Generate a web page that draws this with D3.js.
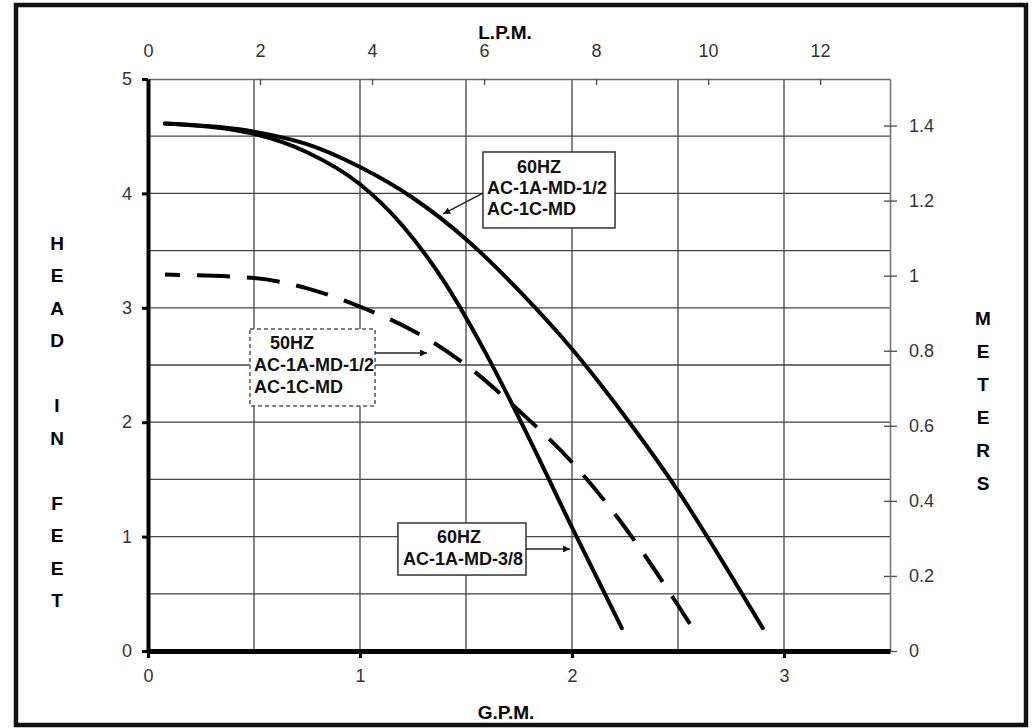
<!DOCTYPE html>
<html>
<head>
    <title>Pump Curve</title>
    <script src="https://d3js.org/d3.v7.min.js"></script>
    <style>
        body { margin: 0; background: #fff; }
        svg { font-family: "Liberation Sans", Arial, sans-serif; }
        .tick text { font-size: 18px; fill: #333; }
        .title { font-size: 19px; font-weight: bold; fill: #000; }
        .note { font-size: 18px; font-weight: bold; fill: #111; }
        .grid { stroke: #444; stroke-width: 1.3; }
        .curve { fill: none; stroke: #000; stroke-width: 4; stroke-linecap: round; }
    </style>
</head>
<body>
<script>
    // GPM / head in feet
    var gpm60Half = [0.08, 0.5, 0.75, 1.0, 1.25, 1.5, 1.75, 2.0, 2.25, 2.5, 2.75, 2.9];
    var head60Half = [4.61, 4.54, 4.43, 4.23, 3.96, 3.60, 3.15, 2.64, 2.05, 1.40, 0.66, 0.2];

    var gpm60Small = [0.08, 0.5, 0.75, 1.0, 1.2, 1.4, 1.6, 1.8, 2.0, 2.235];
    var head60Small = [4.61, 4.52, 4.36, 4.08, 3.72, 3.22, 2.58, 1.85, 1.08, 0.2];

    var gpm50Half = [0.08, 0.5, 0.75, 1.0, 1.25, 1.5, 1.75, 2.0, 2.25, 2.5, 2.566];
    var head50Half = [3.29, 3.26, 3.17, 3.01, 2.80, 2.50, 2.10, 1.65, 1.08, 0.40, 0.21];

    var gpmTicks = [0, 1, 2, 3];
    var feetTicks = [0, 1, 2, 3, 4, 5];
    var lpmTicks = [0, 2, 4, 6, 8, 10, 12];
    var meterTicks = [0, 0.2, 0.4, 0.6, 0.8, 1, 1.2, 1.4];
    var gpmGrid = [0.5, 1, 1.5, 2, 2.5, 3];
    var feetGrid = [0.5, 1, 1.5, 2, 2.5, 3, 3.5, 4, 4.5];

    var w = 1036;
    var h = 728;
    var padLeft = 148, padRight = 890, padTop = 79, padBottom = 651;
    var fmt = d3.format("~g");

    var x = d3.scaleLinear().domain([0, 3.5]).range([padLeft, padRight]);
    var y = d3.scaleLinear().domain([0, 5]).range([padBottom, padTop]);
    var xLpm = d3.scaleLinear().domain([0, 3.5 * 3.785]).range([padLeft, padRight]);
    var yMeter = d3.scaleLinear().domain([0, 5 * 0.3048]).range([padBottom, padTop]);

    var svg = d3.select("body")
        .append("svg")
        .attr("width", w)
        .attr("height", h);

    svg.append("defs").append("marker")
        .attr("id", "arrow")
        .attr("viewBox", "0 0 10 10")
        .attr("refX", 10)
        .attr("refY", 5)
        .attr("markerWidth", 11)
        .attr("markerHeight", 7)
        .attr("markerUnits", "userSpaceOnUse")
        .attr("orient", "auto")
        .append("path")
        .attr("d", "M0,0 L10,5 L0,10 Z")
        .attr("fill", "#111");

    // frame
    svg.append("rect")
        .attr("x", 16).attr("y", 5)
        .attr("width", 1010).attr("height", 720)
        .attr("fill", "none")
        .attr("stroke", "#111")
        .attr("stroke-width", 4.5);

    // grid
    svg.selectAll(".vgrid")
        .data(gpmGrid)
        .enter()
        .append("line")
        .attr("class", "grid")
        .attr("x1", function (d) { return x(d); })
        .attr("x2", function (d) { return x(d); })
        .attr("y1", padTop)
        .attr("y2", padBottom);

    svg.selectAll(".hgrid")
        .data(feetGrid)
        .enter()
        .append("line")
        .attr("class", "grid")
        .attr("x1", padLeft)
        .attr("x2", padRight)
        .attr("y1", function (d) { return y(d); })
        .attr("y2", function (d) { return y(d); });

    // top axis (L.P.M.)
    var topAxis = svg.append("g")
        .attr("transform", "translate(0," + padTop + ")")
        .call(d3.axisTop(xLpm).tickValues(lpmTicks).tickSize(-6).tickSizeOuter(0).tickPadding(22).tickFormat(fmt));
    topAxis.select(".domain").attr("stroke", "#666").attr("stroke-width", 1.6);
    topAxis.selectAll(".tick line").attr("stroke", "#555").attr("stroke-width", 1.4);

    // right axis (meters)
    var rightAxis = svg.append("g")
        .attr("transform", "translate(" + padRight + ",0)")
        .call(d3.axisRight(yMeter).tickValues(meterTicks).tickSize(7).tickSizeOuter(0).tickPadding(12).tickFormat(fmt));
    rightAxis.select(".domain").attr("stroke", "#777").attr("stroke-width", 1.6);
    rightAxis.selectAll(".tick line").attr("x1", -6).attr("stroke", "#555").attr("stroke-width", 1.4);

    // left axis (feet)
    var leftAxis = svg.append("g")
        .attr("transform", "translate(" + padLeft + ",0)")
        .call(d3.axisLeft(y).tickValues(feetTicks).tickSize(6).tickSizeOuter(0).tickPadding(10).tickFormat(fmt));
    leftAxis.select(".domain").attr("stroke", "#000").attr("stroke-width", 4);
    leftAxis.selectAll(".tick line").attr("stroke", "#000").attr("stroke-width", 3);

    // bottom axis (G.P.M.)
    var bottomAxis = svg.append("g")
        .attr("transform", "translate(0," + padBottom + ")")
        .call(d3.axisBottom(x).tickValues(gpmTicks).tickSize(7).tickSizeOuter(0).tickPadding(11).tickFormat(fmt));
    bottomAxis.select(".domain").attr("stroke", "#000").attr("stroke-width", 5);
    bottomAxis.selectAll(".tick line").attr("stroke", "#000").attr("stroke-width", 3);

    // titles
    svg.append("text").attr("class", "title")
        .attr("x", 505).attr("y", 32).attr("dy", "0.35em")
        .attr("text-anchor", "middle").text("L.P.M.");
    svg.append("text").attr("class", "title")
        .attr("x", 506).attr("y", 712).attr("dy", "0.35em")
        .attr("text-anchor", "middle").text("G.P.M.");

    var headLetters = ["H", "E", "A", "D", "", "I", "N", "", "F", "E", "E", "T"];
    svg.append("g").selectAll("text")
        .data(headLetters)
        .enter()
        .append("text")
        .attr("class", "title")
        .attr("x", 57)
        .attr("y", function (d, i) { return 243 + i * 32.5; })
        .attr("dy", "0.35em")
        .attr("text-anchor", "middle")
        .text(function (d) { return d; });

    var meterLetters = ["M", "E", "T", "E", "R", "S"];
    svg.append("g").selectAll("text")
        .data(meterLetters)
        .enter()
        .append("text")
        .attr("class", "title")
        .attr("x", 983)
        .attr("y", function (d, i) { return 318 + i * 33; })
        .attr("dy", "0.35em")
        .attr("text-anchor", "middle")
        .text(function (d) { return d; });

    // curves
    var line = d3.line()
        .x(function (d) { return x(d[0]); })
        .y(function (d) { return y(d[1]); })
        .curve(d3.curveMonotoneX);

    function pairs(xs, ys) {
        return xs.map(function (v, i) { return [v, ys[i]]; });
    }

    svg.append("path")
        .attr("class", "curve")
        .attr("d", line(pairs(gpm60Half, head60Half)));

    svg.append("path")
        .attr("class", "curve")
        .attr("d", line(pairs(gpm60Small, head60Small)));

    svg.append("path")
        .attr("class", "curve")
        .style("stroke-linecap", "butt")
        .attr("stroke-dasharray", "33,17")
        .attr("stroke-dashoffset", 18)
        .attr("d", line(pairs(gpm50Half, head50Half)));

    // label boxes, placed in chart units
    function note(box, lines, arrow, dashed) {
        var g = svg.append("g");
        g.append("rect")
            .attr("x", x(box[0]))
            .attr("y", y(box[2]))
            .attr("width", x(box[1]) - x(box[0]))
            .attr("height", y(box[3]) - y(box[2]))
            .attr("fill", "#fff")
            .attr("stroke", dashed ? "#555" : "#333")
            .attr("stroke-width", 1.5)
            .attr("stroke-dasharray", dashed ? "4,3" : null);
        lines.forEach(function (l) {
            g.append("text")
                .attr("class", "note")
                .attr("x", x(l[1]))
                .attr("y", y(l[2]))
                .attr("dy", "0.35em")
                .attr("text-anchor", l[3])
                .text(l[0]);
        });
        g.append("line")
            .attr("x1", x(arrow[0])).attr("y1", y(arrow[1]))
            .attr("x2", x(arrow[2])).attr("y2", y(arrow[3]))
            .attr("stroke", "#222")
            .attr("stroke-width", 1.4)
            .attr("marker-end", "url(#arrow)");
    }

    note([1.580, 2.203, 4.362, 3.698],
        [["60HZ", 1.844, 4.231, "middle"], ["AC-1A-MD-1/2", 1.599, 4.047, "start"], ["AC-1C-MD", 1.599, 3.864, "start"]],
        [1.580, 4.003, 1.392, 3.820], false);

    note([0.481, 1.071, 2.815, 2.142],
        [["50HZ", 0.575, 2.692, "start"], ["AC-1A-MD-1/2", 0.500, 2.500, "start"], ["AC-1C-MD", 0.500, 2.308, "start"]],
        [1.071, 2.605, 1.316, 2.605], true);

    note([1.179, 1.783, 1.119, 0.664],
        [["60HZ", 1.467, 0.997, "middle"], ["AC-1A-MD-3/8", 1.203, 0.804, "start"]],
        [1.783, 0.892, 1.991, 0.892], false);
</script>
</body>
</html>
